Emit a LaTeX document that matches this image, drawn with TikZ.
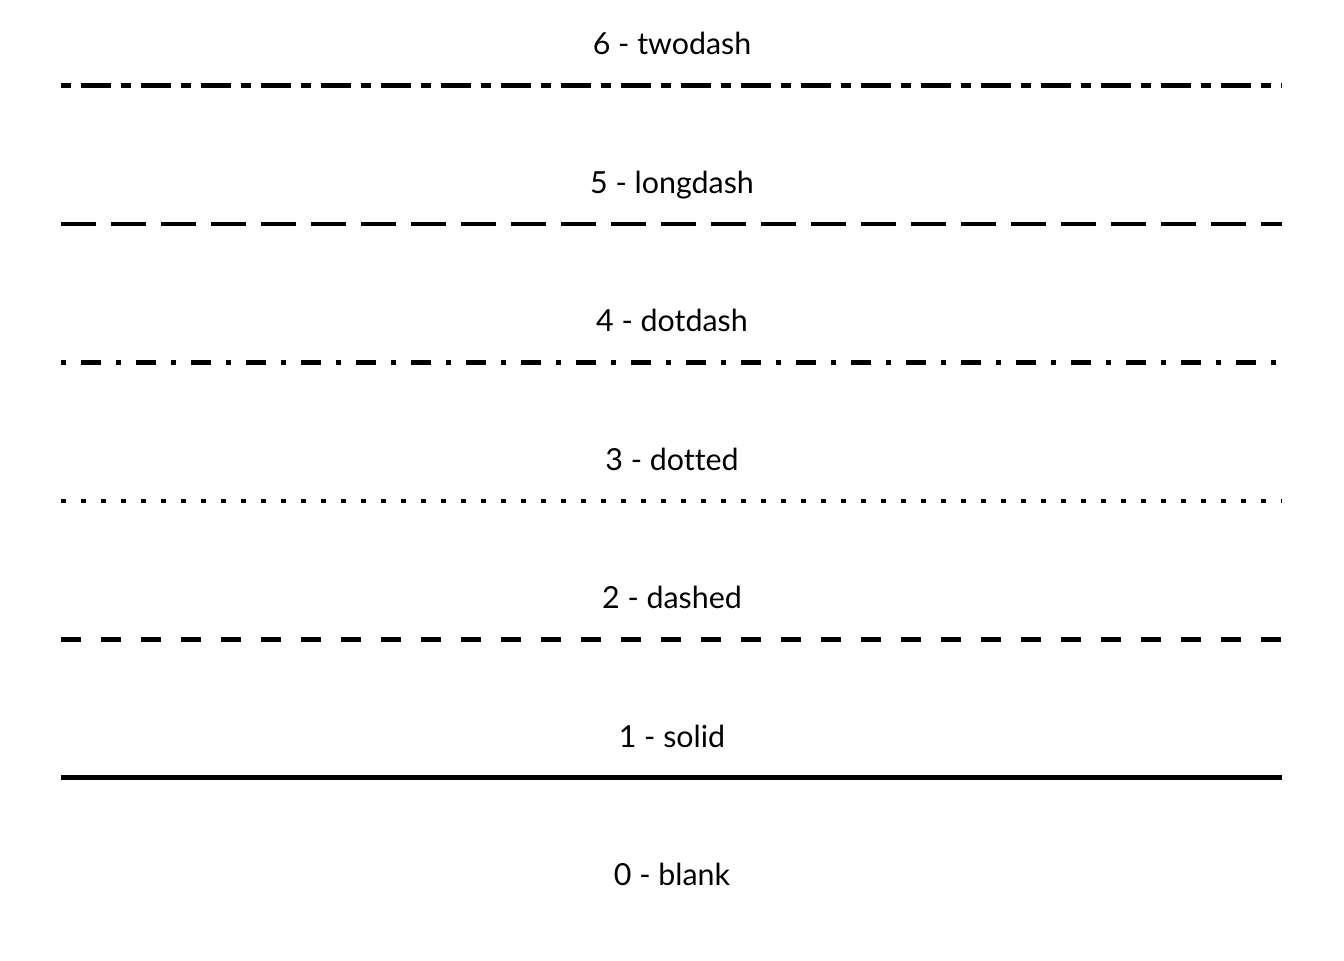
\documentclass[tikz,border=0pt]{standalone}
\usepackage{fontspec}
\setmainfont[Ligatures=NoCommon]{Lato}
\begin{document}
\begin{tikzpicture}[x=1bp,y=-1bp,
  lbl/.style={anchor=base,inner sep=0pt,font=\fontsize{30.5}{36}\selectfont},
  ln/.style={line width=4.6bp,line cap=butt}]
\useasboundingbox (0,0) rectangle (1344,960);
\node[lbl] (l6) at (672,54.5) {6 - twodash};
\node[lbl] (l5) at (672,193) {5 - longdash};
\node[lbl] (l4) at (672,331.5) {4 - dotdash};
\node[lbl] (l3) at (672,470) {3 - dotted};
\node[lbl] (l2) at (672,608.5) {2 - dashed};
\node[lbl] (l1) at (672,747) {1 - solid};
\node[lbl] (l0) at (672,885.5) {0 - blank};
\coordinate (a6) at (61,85.5); \coordinate (b6) at (1282,85.5);
\coordinate (a5) at (61,224); \coordinate (b5) at (1282,224);
\coordinate (a4) at (61,362.5); \coordinate (b4) at (1282,362.5);
\coordinate (a3) at (61,501); \coordinate (b3) at (1282,501);
\coordinate (a2) at (61,639.5); \coordinate (b2) at (1282,639.5);
\coordinate (a1) at (61,777.5); \coordinate (b1) at (1282,777.5);
\draw[ln,dash pattern=on 10bp off 10bp on 30bp off 10bp] (a6) -- (b6);
\draw[ln,dash pattern=on 35bp off 15bp] (a5) -- (b5);
\draw[ln,dash pattern=on 5bp off 15bp on 20bp off 15bp] (a4) -- (b4);
\draw[ln,dash pattern=on 5bp off 15bp] (a3) -- (b3);
\draw[ln,dash pattern=on 20bp off 20bp] (a2) -- (b2);
\draw[ln] (a1) -- (b1);
\end{tikzpicture}
\end{document}
